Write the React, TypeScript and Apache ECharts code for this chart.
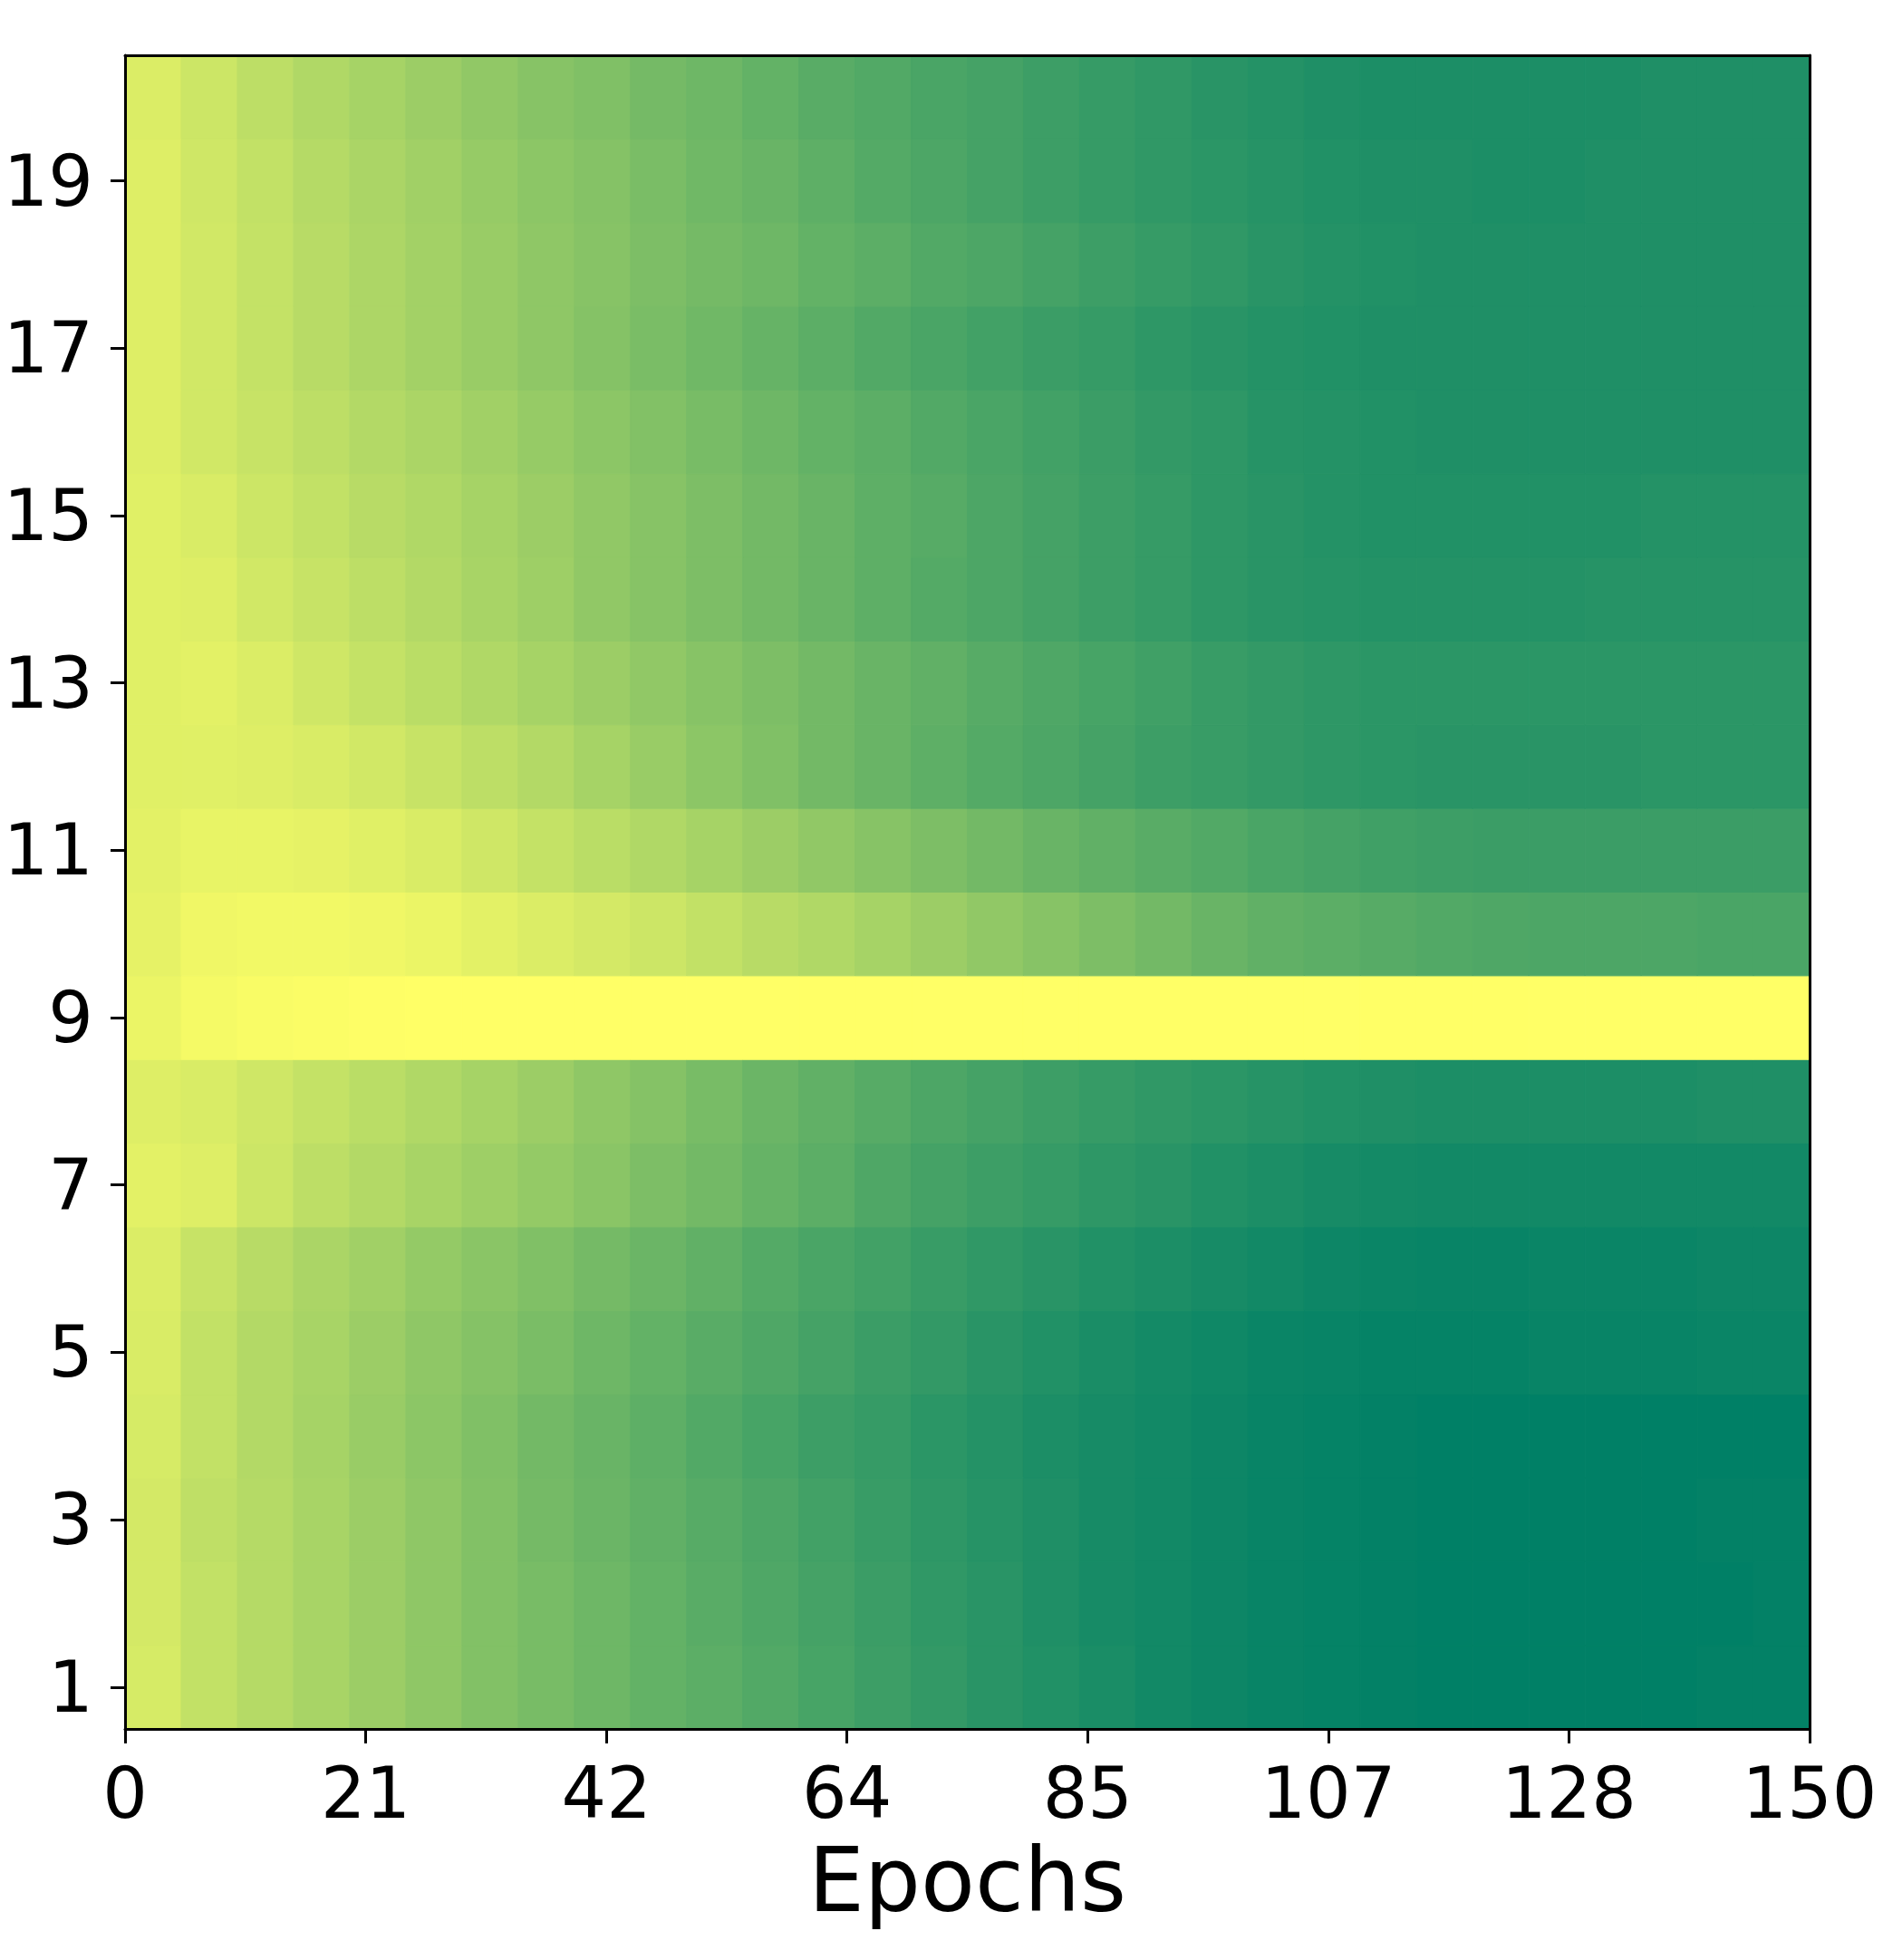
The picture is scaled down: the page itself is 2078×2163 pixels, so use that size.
import React, { useEffect, useRef } from "react";
import * as echarts from "echarts";

// Column boundaries (epochs)
const epochBins = [0, 5, 10, 15, 20, 25, 30, 35, 40, 45, 50, 55, 60, 65, 70, 75, 80, 85, 90, 95, 100, 105, 110, 115, 120, 125, 130, 135, 140, 145, 150];

// X tick labels (matplotlib linspace(0,150,8) truncated)
const xTickLabels = ["0", "21", "42", "64", "85", "107", "128", "150"];
const yTickLabels = [1, 3, 5, 7, 9, 11, 13, 15, 17, 19];
const xAxisTitle = "Epochs";

// Normalised values per row (row index 1..20), one per 5-epoch column
const row1 = [0.84, 0.76, 0.71, 0.66, 0.61, 0.56, 0.51, 0.47, 0.43, 0.39, 0.36, 0.32, 0.28, 0.24, 0.20, 0.16, 0.13, 0.10, 0.07, 0.05, 0.03, 0.02, 0.01, 0.00, 0.00, 0.00, 0.00, 0.00, 0.01, 0.01];
const row2 = [0.83, 0.76, 0.71, 0.66, 0.61, 0.56, 0.51, 0.47, 0.43, 0.39, 0.35, 0.31, 0.27, 0.23, 0.19, 0.16, 0.12, 0.09, 0.07, 0.05, 0.03, 0.02, 0.01, 0.00, 0.00, 0.00, 0.00, 0.00, 0.00, 0.01];
const row3 = [0.83, 0.75, 0.71, 0.66, 0.61, 0.56, 0.51, 0.46, 0.42, 0.38, 0.34, 0.30, 0.26, 0.22, 0.18, 0.15, 0.12, 0.09, 0.07, 0.05, 0.03, 0.02, 0.01, 0.00, 0.00, 0.00, 0.00, 0.00, 0.01, 0.01];
const row4 = [0.84, 0.76, 0.70, 0.65, 0.60, 0.55, 0.50, 0.45, 0.41, 0.37, 0.32, 0.28, 0.24, 0.21, 0.17, 0.14, 0.11, 0.09, 0.07, 0.05, 0.03, 0.02, 0.01, 0.00, 0.00, 0.00, 0.00, 0.00, 0.00, 0.00];
const row5 = [0.85, 0.76, 0.70, 0.66, 0.61, 0.56, 0.52, 0.48, 0.43, 0.39, 0.35, 0.31, 0.27, 0.23, 0.20, 0.16, 0.13, 0.10, 0.08, 0.06, 0.04, 0.03, 0.02, 0.02, 0.02, 0.03, 0.03, 0.03, 0.04, 0.04];
const row6 = [0.86, 0.78, 0.72, 0.67, 0.63, 0.58, 0.54, 0.50, 0.46, 0.42, 0.38, 0.33, 0.29, 0.26, 0.22, 0.19, 0.16, 0.13, 0.11, 0.09, 0.07, 0.05, 0.04, 0.03, 0.03, 0.04, 0.04, 0.04, 0.05, 0.05];
const row7 = [0.89, 0.87, 0.80, 0.74, 0.70, 0.66, 0.62, 0.58, 0.54, 0.49, 0.45, 0.40, 0.36, 0.31, 0.27, 0.24, 0.21, 0.18, 0.16, 0.13, 0.11, 0.09, 0.08, 0.07, 0.07, 0.07, 0.07, 0.07, 0.07, 0.07];
const row8 = [0.87, 0.85, 0.81, 0.77, 0.73, 0.69, 0.65, 0.61, 0.56, 0.52, 0.47, 0.42, 0.38, 0.34, 0.30, 0.27, 0.24, 0.21, 0.19, 0.17, 0.15, 0.13, 0.12, 0.11, 0.11, 0.11, 0.11, 0.11, 0.12, 0.12];
const row9 = [0.92, 0.96, 0.975, 0.985, 0.995, 1.0, 1.0, 1.0, 1.0, 1.0, 1.0, 1.0, 1.0, 1.0, 1.0, 1.0, 1.0, 1.0, 1.0, 1.0, 1.0, 1.0, 1.0, 1.0, 1.0, 1.0, 1.0, 1.0, 1.0, 1.0];
const row10 = [0.90, 0.94, 0.95, 0.95, 0.94, 0.92, 0.89, 0.86, 0.83, 0.80, 0.76, 0.72, 0.69, 0.65, 0.61, 0.57, 0.53, 0.49, 0.45, 0.41, 0.38, 0.36, 0.34, 0.32, 0.31, 0.30, 0.30, 0.30, 0.29, 0.29];
const row11 = [0.89, 0.91, 0.91, 0.90, 0.88, 0.85, 0.81, 0.77, 0.73, 0.69, 0.65, 0.61, 0.57, 0.53, 0.49, 0.45, 0.41, 0.38, 0.35, 0.32, 0.29, 0.27, 0.25, 0.24, 0.23, 0.23, 0.23, 0.23, 0.23, 0.23];
const row12 = [0.88, 0.88, 0.87, 0.85, 0.82, 0.78, 0.74, 0.70, 0.65, 0.60, 0.55, 0.50, 0.45, 0.41, 0.37, 0.33, 0.30, 0.27, 0.24, 0.22, 0.20, 0.18, 0.17, 0.16, 0.16, 0.16, 0.16, 0.17, 0.17, 0.17];
const row13 = [0.88, 0.89, 0.86, 0.81, 0.77, 0.73, 0.69, 0.65, 0.61, 0.57, 0.53, 0.49, 0.45, 0.41, 0.38, 0.34, 0.31, 0.28, 0.25, 0.22, 0.20, 0.18, 0.17, 0.17, 0.17, 0.17, 0.17, 0.17, 0.17, 0.17];
const row14 = [0.88, 0.87, 0.82, 0.78, 0.74, 0.70, 0.66, 0.62, 0.57, 0.53, 0.49, 0.45, 0.41, 0.37, 0.33, 0.30, 0.27, 0.24, 0.21, 0.18, 0.16, 0.15, 0.14, 0.14, 0.14, 0.14, 0.15, 0.15, 0.15, 0.15];
const row15 = [0.88, 0.85, 0.80, 0.76, 0.72, 0.69, 0.65, 0.61, 0.57, 0.53, 0.49, 0.45, 0.41, 0.37, 0.34, 0.30, 0.27, 0.24, 0.21, 0.18, 0.16, 0.14, 0.13, 0.13, 0.13, 0.13, 0.13, 0.14, 0.14, 0.14];
const row16 = [0.87, 0.82, 0.78, 0.74, 0.70, 0.67, 0.63, 0.59, 0.55, 0.51, 0.47, 0.43, 0.39, 0.36, 0.32, 0.29, 0.26, 0.23, 0.20, 0.18, 0.15, 0.14, 0.13, 0.12, 0.12, 0.12, 0.12, 0.12, 0.12, 0.12];
const row17 = [0.87, 0.82, 0.77, 0.72, 0.68, 0.64, 0.60, 0.56, 0.52, 0.48, 0.44, 0.40, 0.36, 0.32, 0.29, 0.26, 0.23, 0.21, 0.18, 0.16, 0.14, 0.13, 0.12, 0.12, 0.12, 0.12, 0.12, 0.12, 0.12, 0.12];
const row18 = [0.87, 0.82, 0.77, 0.72, 0.68, 0.64, 0.60, 0.56, 0.53, 0.49, 0.46, 0.43, 0.39, 0.36, 0.32, 0.30, 0.27, 0.24, 0.21, 0.19, 0.16, 0.14, 0.13, 0.12, 0.12, 0.12, 0.12, 0.12, 0.12, 0.12];
const row19 = [0.87, 0.81, 0.76, 0.71, 0.67, 0.63, 0.59, 0.55, 0.52, 0.48, 0.44, 0.41, 0.37, 0.33, 0.30, 0.27, 0.24, 0.21, 0.19, 0.17, 0.15, 0.13, 0.12, 0.12, 0.11, 0.11, 0.12, 0.12, 0.12, 0.12];
const row20 = [0.86, 0.80, 0.74, 0.69, 0.65, 0.61, 0.57, 0.53, 0.50, 0.46, 0.43, 0.39, 0.35, 0.32, 0.29, 0.27, 0.24, 0.21, 0.19, 0.16, 0.14, 0.12, 0.11, 0.11, 0.11, 0.11, 0.11, 0.12, 0.12, 0.12];

const rows = [row1, row2, row3, row4, row5, row6, row7, row8, row9, row10, row11, row12, row13, row14, row15, row16, row17, row18, row19, row20];

export default function App() {
  const ref = useRef<HTMLDivElement>(null);

  useEffect(() => {
    document.body.style.margin = "0";
    if (!ref.current) return;
    const chart = echarts.init(ref.current, undefined, { renderer: "svg" });

    const data: number[][] = [];
    rows.forEach((vals, ri) => {
      vals.forEach((v, ci) => {
        data.push([epochBins[ci], epochBins[ci + 1], ri + 1, v]);
      });
    });

    const maxEpoch = epochBins[epochBins.length - 1];
    const xTickPos = xTickLabels.map((_, i) => (i * maxEpoch) / (xTickLabels.length - 1));
    const font = "DejaVu Sans";

    chart.setOption({
      animation: false,
      backgroundColor: "#ffffff",
      grid: { left: 138, top: 61, width: 1859, height: 1847, containLabel: false },
      visualMap: {
        show: false,
        type: "continuous",
        min: 0,
        max: 1,
        dimension: 3,
        seriesIndex: 0,
        inRange: { color: ["#008066", "#ffff66"] },
      },
      xAxis: [
        {
          type: "value",
          min: 0,
          max: maxEpoch,
          position: "bottom",
          z: 10,
          name: xAxisTitle,
          nameLocation: "middle",
          nameGap: 118,
          nameTextStyle: { fontFamily: font, fontSize: 98, color: "#000" },
          axisLine: { show: true, onZero: false, lineStyle: { color: "#000", width: 3 } },
          axisTick: { show: true, length: 16, lineStyle: { color: "#000", width: 3 }, customValues: xTickPos },
          axisLabel: {
            show: true,
            customValues: xTickPos,
            margin: 32,
            fontFamily: font,
            fontSize: 78,
            color: "#000",
            formatter: (val: number) => {
              const idx = xTickPos.findIndex((p) => Math.abs(p - val) < 1e-6);
              return idx >= 0 ? xTickLabels[idx] : "";
            },
          },
          splitLine: { show: false },
        },
        {
          type: "value",
          min: 0,
          max: maxEpoch,
          position: "top",
          z: 10,
          axisLine: { show: true, onZero: false, lineStyle: { color: "#000", width: 3 } },
          axisTick: { show: false },
          axisLabel: { show: false },
          splitLine: { show: false },
        },
      ],
      yAxis: [
        {
          type: "value",
          min: 0.5,
          max: 20.5,
          position: "left",
          z: 10,
          axisLine: { show: true, onZero: false, lineStyle: { color: "#000", width: 3 } },
          axisTick: { show: true, length: 16, lineStyle: { color: "#000", width: 3 }, customValues: yTickLabels },
          axisLabel: {
            show: true,
            customValues: yTickLabels,
            margin: 35,
            fontFamily: font,
            fontSize: 78,
            color: "#000",
            formatter: (v: number) => String(Math.round(v)),
          },
          splitLine: { show: false },
        },
        {
          type: "value",
          min: 0.5,
          max: 20.5,
          position: "right",
          z: 10,
          axisLine: { show: true, onZero: false, lineStyle: { color: "#000", width: 3 } },
          axisTick: { show: false },
          axisLabel: { show: false },
          splitLine: { show: false },
        },
      ],
      series: [
        {
          type: "custom",
          xAxisIndex: 0,
          yAxisIndex: 0,
          clip: true,
          z: 1,
          encode: { x: [0, 1], y: 2 },
          data,
          renderItem: (params: any, api: any) => {
            const x0 = api.value(0);
            const x1 = api.value(1);
            const y = api.value(2);
            const p0 = api.coord([x0, y + 0.5]);
            const p1 = api.coord([x1, y - 0.5]);
            const color = api.visual("color");
            return {
              type: "rect",
              shape: { x: p0[0], y: p0[1], width: p1[0] - p0[0], height: p1[1] - p0[1] },
              style: { fill: color, stroke: color, lineWidth: 1 },
            };
          },
        },
      ],
    });

    return () => {
      chart.dispose();
    };
  }, []);

  return <div ref={ref} style={{ width: 2078, height: 2163, overflow: "hidden" }} />;
}
